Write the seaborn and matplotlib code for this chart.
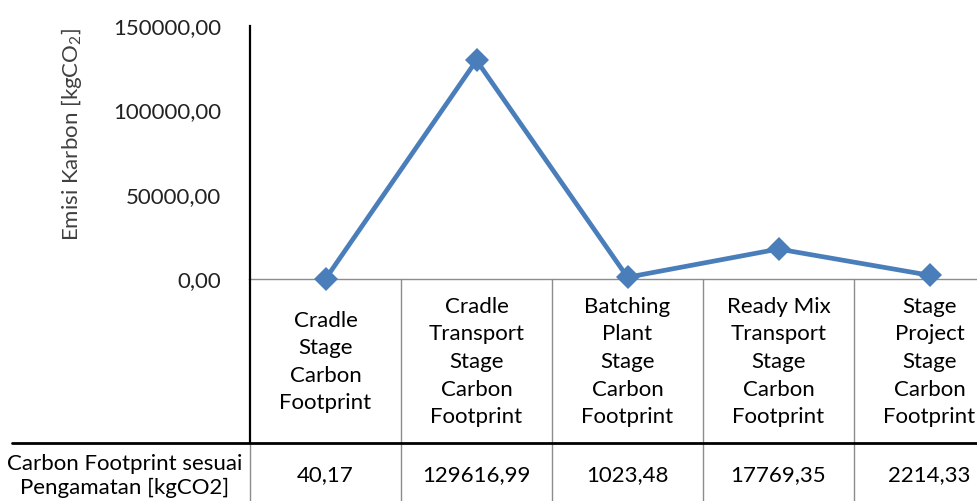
import matplotlib
matplotlib.use('Agg')
import matplotlib.pyplot as plt
import seaborn as sns
import pandas as pd

# chart data
categories = [
    'Cradle\nStage\nCarbon\nFootprint',
    'Cradle\nTransport\nStage\nCarbon\nFootprint',
    'Batching\nPlant\nStage\nCarbon\nFootprint',
    'Ready Mix\nTransport\nStage\nCarbon\nFootprint',
    'Stage\nProject\nStage\nCarbon\nFootprint',
]
emisi = [40.17, 129616.99, 1023.48, 17769.35, 2214.33]
y_ticks = [0, 50000, 100000, 150000]
row_label = 'Carbon Footprint sesuai\nPengamatan [kgCO2]'

sns.set_style('white')
plt.rcParams['font.family'] = ['Lato', 'DejaVu Sans']
plt.rcParams['mathtext.default'] = 'regular'

W, H = 977, 501
fig = plt.figure(figsize=(W / 100, H / 100), dpi=100)

# pixel layout (from the reference)
x_left, cat_w = 250, 151
y_zero, y_top, y_row = 279, 26, 443
x_right = x_left + cat_w * len(categories)
fs = 16

ax = fig.add_axes([x_left / W, (H - y_zero) / H, (x_right - x_left) / W, (y_zero - y_top) / H])
df = pd.DataFrame({'x': range(len(categories)), 'y': emisi})
sns.lineplot(data=df, x='x', y='y', ax=ax, color='#4A7EBB', linewidth=3.4,
             marker='D', markersize=12, markeredgewidth=0, clip_on=False, zorder=5)
ax.set_xlim(-0.5, len(categories) - 0.5)
ax.set_ylim(0, 150000)
ax.set_yticks(y_ticks)
ax.set_yticklabels([f'{v:.2f}'.replace('.', ',') for v in y_ticks], fontsize=fs, color='#222222')
ax.set_xticks([])
ax.tick_params(axis='y', length=0, pad=21)
ax.set_xlabel('')
ax.set_ylabel('Emisi Karbon [kgCO$_2$]', fontsize=fs, color='#404040')
ax.yaxis.set_label_coords(-166 / (x_right - x_left), 0.57)
for s in ['top', 'right']:
    ax.spines[s].set_visible(False)
ax.spines['left'].set_color('black')
ax.spines['left'].set_linewidth(1.6)
ax.spines['bottom'].set_color('#8c8c8c')
ax.spines['bottom'].set_linewidth(1.0)
ax.patch.set_alpha(0)

# data table below the plot, x in category units, y in pixels from top
tb = fig.add_axes([0, 0, x_right / W, (H - y_zero) / H])
tb.set_xlim(-0.5 - x_left / cat_w, len(categories) - 0.5)
tb.set_ylim(H, y_zero)
tb.axis('off')
tb.patch.set_alpha(0)
for i in range(len(categories)):
    tb.plot([i + 0.5, i + 0.5], [y_zero, H], color='#8c8c8c', lw=1.0, clip_on=False)
    tb.text(i, (y_zero + y_row) / 2 + 1, categories[i], ha='center', va='center',
            fontsize=fs, linespacing=1.47, color='black')
    tb.text(i, (y_row + H) / 2 + 3, f'{emisi[i]:.2f}'.replace('.', ','),
            ha='center', va='center', fontsize=fs, color='black')
tb.plot([-0.5, -0.5], [y_zero, y_row], color='black', lw=1.6, clip_on=False)
tb.plot([-0.5, -0.5], [y_row, H], color='#8c8c8c', lw=1.0, clip_on=False)
tb.plot([-0.5 - (x_left - 12) / cat_w, len(categories) - 0.5], [y_row, y_row],
        color='black', lw=2.0, clip_on=False)
tb.text(-0.5 - x_left / cat_w / 2, (y_row + H) / 2 + 4, row_label, ha='center', va='center',
        fontsize=fs, linespacing=1.3, color='black')

fig.savefig('out.png', dpi=100)
